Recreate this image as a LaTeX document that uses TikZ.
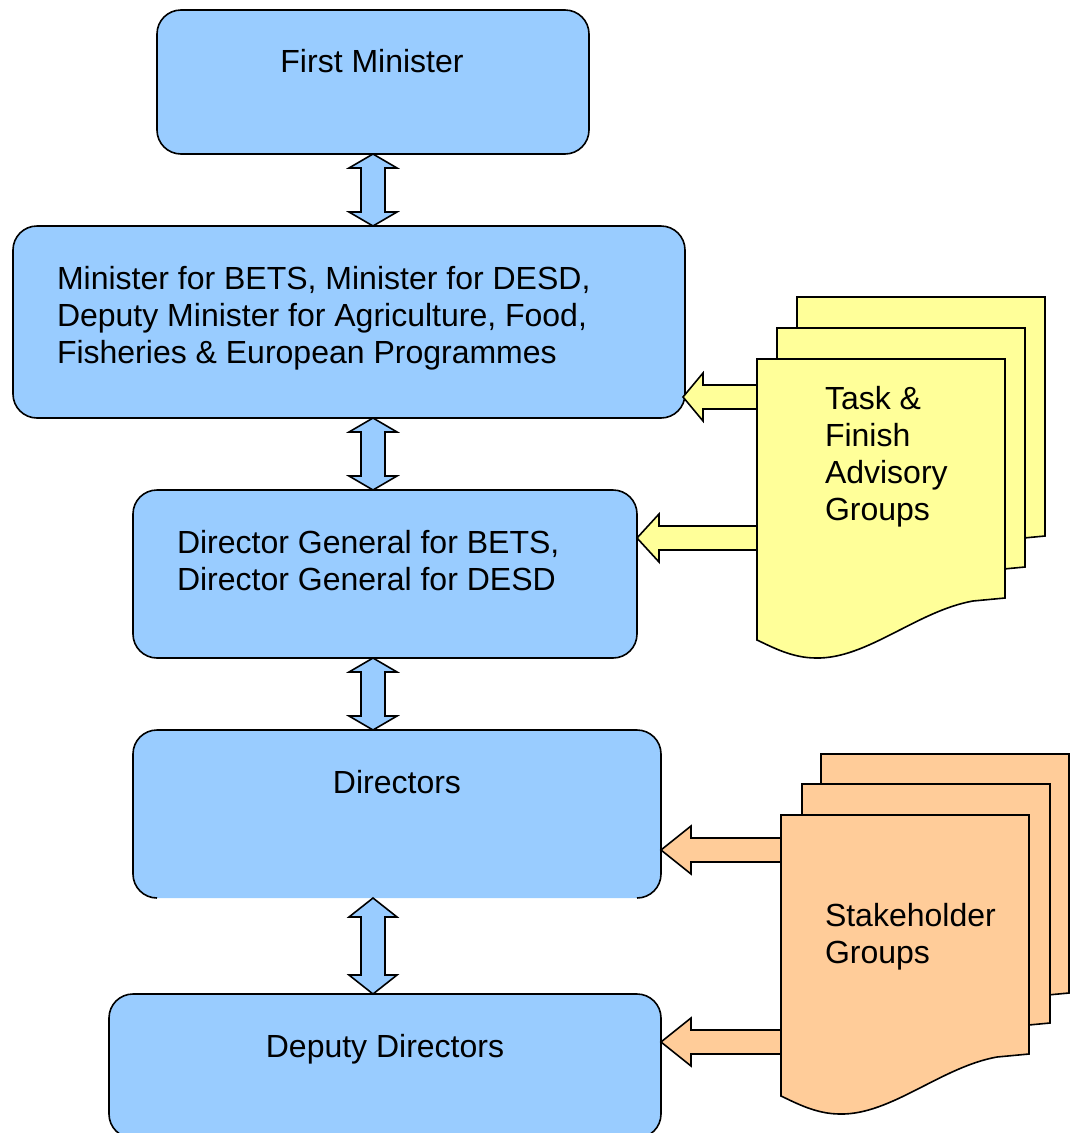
\documentclass[tikz,border=0pt]{standalone}
\usepackage{fontspec}
\setmainfont{Liberation Sans}
\usetikzlibrary{calc}
\definecolor{boxblue}{HTML}{99CCFF}
\definecolor{docyellow}{HTML}{FFFF99}
\definecolor{docorange}{HTML}{FFCC99}
\tikzset{
  boxfill/.style={rectangle, rounded corners=24pt, fill=boxblue, inner sep=0pt, outer sep=0pt},
  box/.style={boxfill, draw=black, line width=1.6pt},
  border/.style={draw=black, line width=1.6pt},
  dblarr/.style={fill=boxblue, draw=black, line width=1.6pt, line join=miter},
  sarr/.style={draw=black, line width=1.6pt, line join=miter},
  docshape/.pic={
    \path[pic actions] (0,0) -- (248,0) -- (248,239) -- (216,242)
      .. controls (160,252) and (110,300) .. (59,299)
      .. controls (35,299) and (15,288) .. (0,281) -- cycle;
  },
  txt/.style={font=\fontsize{32}{37}\selectfont, inner sep=0pt, outer sep=0pt},
  hold/.style={inner sep=0pt, outer sep=0pt, minimum width=248pt, minimum height=281pt, anchor=north west}
}
\newcommand\udarrow[3]{%
  \draw[dblarr] (#1) -- ++(24,#3) -- ++(-12,0) -- ($(#2)+(12,-#3)$) -- ++(12,0) -- (#2)
    -- ++(-24,-#3) -- ++(12,0) -- ($(#1)+(-12,#3)$) -- ++(-12,0) -- cycle;}
\newcommand\lftarrow[4]{% tip, tail, head length, fill
  \draw[sarr, fill=#4] (#1) -- ++(#3,-24) -- ++(0,12) -- ($(#2)+(0,-12)$) -- ($(#2)+(0,12)$)
    -- ($(#1)+(#3,12)$) -- ++(0,12) -- cycle;}
\begin{document}
\begin{tikzpicture}[x=1pt,y=-1pt]
\path[use as bounding box] (0,0) rectangle (1079,1133);
\clip (0,0) rectangle (1079,1133);

% boxes
\node[box, minimum width=432pt, minimum height=144pt] (fm) at (373,82) {};
\node[box, minimum width=672pt, minimum height=192pt] (min) at (349,322) {};
\node[box, minimum width=504pt, minimum height=168pt] (dg) at (385,574) {};
\node[boxfill, minimum width=528pt, minimum height=168pt] (dir) at (397,814) {};
\draw[border, rounded corners=24pt] ($(dir.south west)+(24,0)$) -- (dir.south west) -- (dir.north west)
  -- (dir.north east) -- (dir.south east) -- ($(dir.south east)+(-24,0)$);
\node[box, minimum width=552pt, minimum height=144pt] (dep) at (385,1066) {};

% double arrows
\coordinate (ax) at (373,0);
\coordinate (a1t) at (ax |- fm.south);  \coordinate (a1b) at (ax |- min.north);
\coordinate (a2t) at (ax |- min.south); \coordinate (a2b) at (ax |- dg.north);
\coordinate (a3t) at (ax |- dg.south);  \coordinate (a3b) at (ax |- dir.north);
\coordinate (a4t) at (ax |- dir.south); \coordinate (a4b) at (ax |- dep.north);
\udarrow{a1t}{a1b}{14}
\udarrow{a2t}{a2b}{14}
\udarrow{a3t}{a3b}{14}
\udarrow{a4t}{a4b}{19}

% document holders
\node[hold] (tf) at (757,359) {};
\node[hold] (sh) at (781,815) {};

% side arrows
\coordinate (y1tip) at ($(min.east)+(-2,75)$);
\coordinate (y2tip) at ($(dg.east)+(0,-36)$);
\coordinate (o1tip) at ($(dir.east)+(0,36)$);
\coordinate (o2tip) at ($(dep.east)+(0,-24)$);
\coordinate (y1tail) at ($(tf.west |- y1tip)+(3,0)$);
\coordinate (y2tail) at ($(tf.west |- y2tip)+(3,0)$);
\coordinate (o1tail) at ($(sh.west |- o1tip)+(3,0)$);
\coordinate (o2tail) at ($(sh.west |- o2tip)+(3,0)$);
\lftarrow{y1tip}{y1tail}{20}{docyellow}
\lftarrow{y2tip}{y2tail}{22}{docyellow}
\lftarrow{o1tip}{o1tail}{30}{docorange}
\lftarrow{o2tip}{o2tail}{30}{docorange}

% multi-documents
\pic[fill=docyellow, draw=black, line width=1.6pt] at (797,297) {docshape};
\pic[fill=docyellow, draw=black, line width=1.6pt] at (777,328) {docshape};
\pic[fill=docyellow, draw=black, line width=1.6pt] at (tf.north west) {docshape};
\pic[fill=docorange, draw=black, line width=1.6pt] at (821,754) {docshape};
\pic[fill=docorange, draw=black, line width=1.6pt] at (802,784) {docshape};
\pic[fill=docorange, draw=black, line width=1.6pt] at (sh.north west) {docshape};

% texts
\node[txt, anchor=base] (fmt) at (372,72) {First Minister};
\node[txt, anchor=base west] (mt1) at (57,289) {Minister for BETS, Minister for DESD,};
\node[txt, anchor=base west] (mt2) at (57,326) {Deputy Minister for Agriculture, Food,};
\node[txt, anchor=base west] (mt3) at (57,363) {Fisheries \& European Programmes};
\node[txt, anchor=base west] (dg1) at (177,553) {Director General for BETS,};
\node[txt, anchor=base west] (dg2) at (177,590) {Director General for DESD};
\node[txt, anchor=base] (dirt) at (397,793) {Directors};
\node[txt, anchor=base] (dept) at (385,1057) {Deputy Directors};
\node[txt, anchor=base west] (tf1) at (825,409) {Task \&};
\node[txt, anchor=base west] (tf2) at (825,446) {Finish};
\node[txt, anchor=base west] (tf3) at (825,483) {Advisory};
\node[txt, anchor=base west] (tf4) at (825,520) {Groups};
\node[txt, anchor=base west] (sh1) at (825,926) {Stakeholder};
\node[txt, anchor=base west] (sh2) at (825,963) {Groups};
\end{tikzpicture}
\end{document}
